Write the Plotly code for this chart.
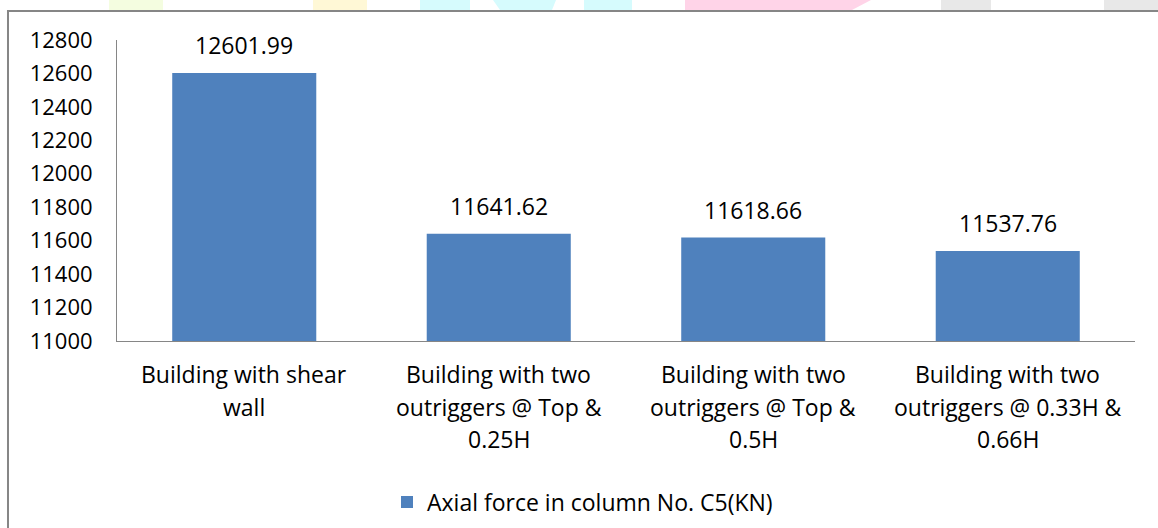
import plotly.graph_objects as go

categories = [
    "Building with shear\nwall",
    "Building with two\noutriggers @ Top &\n0.25H",
    "Building with two\noutriggers @ Top &\n0.5H",
    "Building with two\noutriggers @ 0.33H &\n0.66H",
]
values = [12601.99, 11641.62, 11618.66, 11537.76]
value_labels = ["12601.99", "11641.62", "11618.66", "11537.76"]
series_name = "Axial force in column No. C5(KN)"
y_ticks = [11000, 11200, 11400, 11600, 11800, 12000, 12200, 12400, 12600, 12800]

W, H = 1158, 528
# plot area in page pixels: x 117..1135, y 40..341
ML, MR, MT, MB = 117, 23, 40, 187
PW, PH = W - ML - MR, H - MT - MB
FONT = "Open Sans"
FS = 23
FS_TICK = 22
BLUE = "#4F81BD"
GRAY = "#868686"


def px(x):
    """page pixel x -> paper x"""
    return (x - ML) / PW


def py(y):
    """page pixel y -> paper y"""
    return (H - MB - y) / PH


cat_keys = [c.replace("\n", " ") for c in categories]

fig = go.Figure()
fig.add_trace(go.Bar(
    x=cat_keys, y=values, name=series_name,
    marker=dict(color=BLUE, line=dict(width=0)),
    showlegend=True, hoverinfo="skip",
))

annotations = []
# value labels above bars
for k, v, t in zip(cat_keys, values, value_labels):
    annotations.append(dict(
        x=k, y=v, xref="x", yref="y", text=t, showarrow=False,
        yanchor="bottom", yshift=10, font=dict(family=FONT, size=FS, color="#000000"),
    ))
# category labels (multi-line)
for k, c in zip(cat_keys, categories):
    for i, line in enumerate(c.split("\n")):
        annotations.append(dict(
            x=k, y=py(374 + 32.5 * i), xref="x", yref="paper", text=line,
            showarrow=False, yanchor="middle", xanchor="center",
            font=dict(family=FONT, size=FS, color="#000000"),
        ))

shapes = []
# decorative strip at the very top + chart frame edges (fill only, no strokes)
blocks = [
    ("#f4fde0", [(109, 0), (163, 0), (163, 10), (109, 10)]),
    ("#fff8d6", [(313, 0), (367, 0), (367, 10), (313, 10)]),
    ("#d6fbfd", [(420, 0), (470, 0), (470, 10), (420, 10)]),
    ("#d6fbfd", [(493, 0), (556, 0), (552, 10), (500, 10)]),
    ("#d6fbfd", [(584, 0), (632, 0), (632, 10), (584, 10)]),
    ("#ffd4e8", [(685, 0), (871, 0), (852, 10), (685, 10)]),
    ("#e8e8e8", [(941, 0), (991, 0), (991, 10), (941, 10)]),
    ("#e8e8e8", [(1104, 0), (1158, 0), (1158, 10), (1104, 10)]),
    (GRAY, [(7, 10), (1158, 10), (1158, 12), (7, 12)]),
    (GRAY, [(7, 10), (9, 10), (9, 528), (7, 528)]),
]
for col, pts in blocks:
    path = "M " + " L ".join(f"{px(a):.5f},{py(b):.5f}" for a, b in pts) + " Z"
    shapes.append(dict(type="path", xref="paper", yref="paper", path=path,
                       fillcolor=col, line=dict(width=0), layer="below"))

fig.update_layout(
    width=W, height=H, autosize=False,
    margin=dict(l=ML, r=MR, t=MT, b=MB, pad=0, autoexpand=False),
    paper_bgcolor="white", plot_bgcolor="white",
    font=dict(family=FONT, size=FS, color="#000000"),
    bargap=0.434,
    hovermode=False,
    xaxis=dict(
        type="category", categoryorder="array", categoryarray=cat_keys,
        showticklabels=False, ticks="", showgrid=False, zeroline=False,
        showline=True, linecolor=GRAY, linewidth=1,
    ),
    yaxis=dict(
        range=[11000, 12800], tickvals=y_ticks, ticktext=[str(t) for t in y_ticks],
        ticks="", ticklabelstandoff=19, showgrid=False, zeroline=False,
        showline=True, linecolor=GRAY, linewidth=1,
        tickfont=dict(family=FONT, size=FS_TICK, color="#000000"),
    ),
    legend=dict(
        orientation="h", x=px(387), xanchor="left", y=py(502), yanchor="middle",
        bgcolor="rgba(0,0,0,0)", font=dict(family=FONT, size=FS, color="#000000"),
    ),
    annotations=annotations, shapes=shapes,
)

fig.write_html(
    "out.html",
    config={"responsive": False, "displayModeBar": False, "staticPlot": True},
    post_script="document.body.style.margin='0';document.body.style.overflow='hidden';",
)
